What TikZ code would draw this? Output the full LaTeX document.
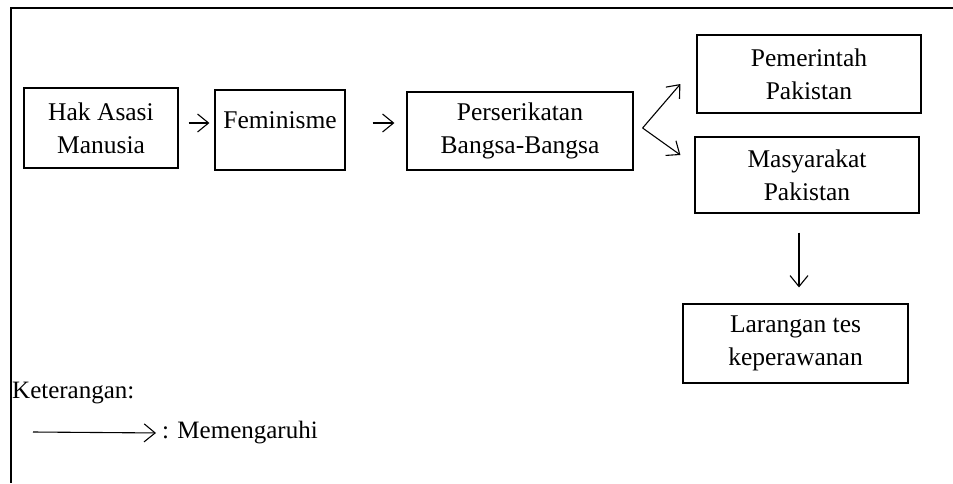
\documentclass[tikz,border=0pt]{standalone}
\usepackage{fontspec}
\setmainfont{Liberation Serif}
\usetikzlibrary{arrows.meta}
\tikzset{
  box/.style={draw, line width=1.2pt, align=center, inner sep=0pt,
    font=\fontsize{25.5}{33}\selectfont},
  arr/.style={line width=1.1pt, -{Straight Barb[length=11pt,width=18pt]}},
  txt/.style={inner sep=0pt, anchor=west, font=\fontsize{25}{32}\selectfont}
}
\begin{document}
\begin{tikzpicture}[x=1pt, y=-1pt]
          \useasboundingbox (0,0) rectangle (953,483);
          \draw[line width=1.3pt] (953,8) -- (11,8) -- (11,483);

          \node[box, minimum width=154pt, minimum height=80pt] (hak) at (101,128) {Hak Asasi\\Manusia};
          \node[box, minimum width=130pt, minimum height=80pt] (fem) at (280,130) {\raisebox{20pt}{Feminisme}};
          \node[box, minimum width=226pt, minimum height=78pt] (per) at (520,131) {Perserikatan\\Bangsa-Bangsa};
          \node[box, minimum width=224pt, minimum height=78pt] (pem) at (809,74) {Pemerintah\\Pakistan};
          \node[box, minimum width=224pt, minimum height=76pt] (mas) at (807,175) {Masyarakat\\Pakistan};
          \node[box, minimum width=225pt, minimum height=79pt] (lar) at (795.5,343.5) {Larangan tes\\keperawanan};

          \draw[arr, shorten <=10pt, shorten >=5pt] ([yshift=5pt]hak.east) -- ([yshift=7pt]fem.west);
          \draw[arr, shorten <=27pt, shorten >=12pt] ([yshift=7pt]fem.east) -- ([yshift=8pt]per.west);

          \coordinate (fork) at ([xshift=9pt,yshift=3pt]per.east);
          \draw[arr] (fork) -- ([xshift=-16pt,yshift=-10pt]pem.west);
          \draw[arr] (fork) -- ([xshift=-14pt,yshift=20pt]mas.west);

          \draw[arr] ([xshift=-8pt,yshift=-19pt]mas.south) -- ([xshift=3.5pt,yshift=16pt]lar.north);

          % keterangan
          \node[txt] (ket) at (12,393) {Keterangan:};
          \coordinate (leg) at (33,432);
          \node[txt] (pengaruh) at (162,433) {: Memengaruhi};
          \draw[arr, shorten >=6pt] (leg) -- (pengaruh.west);
\end{tikzpicture}
\end{document}
